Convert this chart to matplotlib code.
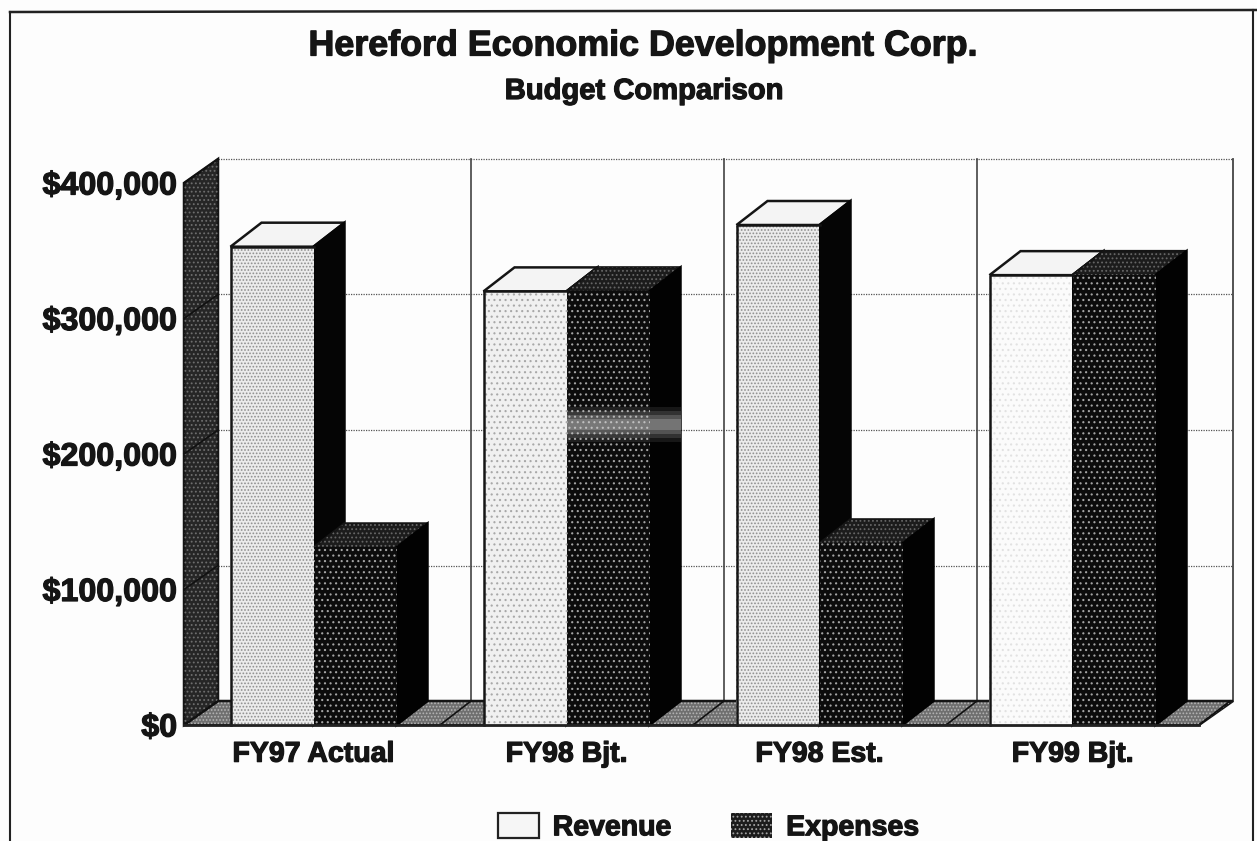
import matplotlib.pyplot as plt
import matplotlib.patheffects as pe
from matplotlib.patches import Rectangle

plt.rcParams['font.family'] = ['Liberation Sans', 'DejaVu Sans']
plt.rcParams['hatch.linewidth'] = 0.8

# values
categories = ['FY97 Actual', 'FY98 Bjt.', 'FY98 Est.', 'FY99 Bjt.']
revenue = [353000, 320000, 369000, 332000]
expenses = [131000, 320000, 134000, 332000]
y_ticks = [0, 100000, 200000, 300000, 400000]
y_tick_labels = ['$0', '$100,000', '$200,000', '$300,000', '$400,000']

W, H = 1257, 841
fig = plt.figure(figsize=(W / 100, H / 100), dpi=100, facecolor='#fdfdfd')
ax = fig.add_axes([187 / W, 1 - 725 / H, 1012 / W, 542 / H])
ax.set_xlim(0, 4)
ax.set_ylim(0, 400000)
ax.patch.set_alpha(0)
for s in ax.spines.values():
    s.set_visible(False)

# depth of the fake 3d box, in data units
dx = 31 / 253
dy = 24 / 542 * 400000
bar_w = 83 / 253
# the walls stick out a little past the bars' plane
wall_pad = 3 / 253

# thicker strokes for the blurred photocopy text
heavy = [pe.withStroke(linewidth=0.9, foreground='#151515')]


def face(xs, ys, color, hatch=None, edge='#151515', lw=1.8, z=2):
    ax.fill(xs, ys, facecolor=color, edgecolor=edge, linewidth=lw, zorder=z, clip_on=False)
    if hatch:
        ax.fill(xs, ys, facecolor='none', edgecolor=hatch[1], hatch=hatch[0],
                linewidth=0, zorder=z, clip_on=False)


# back wall grid
for v in y_ticks[1:]:
    ax.plot([dx, 4 + dx + wall_pad], [v + dy, v + dy], color='#555555', lw=0.9, ls=(0, (1, 1)),
            zorder=1, clip_on=False)
for i in range(1, 4):
    ax.plot([i + dx, i + dx], [dy, 400000 + dy], color='#444444', lw=1.2, zorder=1, clip_on=False)
ax.plot([4 + dx + wall_pad] * 2, [dy, 400000 + dy], color='#444444', lw=1.3, zorder=1, clip_on=False)

# floor and left wall
face([-wall_pad, 4, 4 + dx + wall_pad, dx], [0, 0, dy, dy], '#6f6f6f', hatch=('.....', '#b5b5b5'), z=1.5)
face([-wall_pad, dx, dx, -wall_pad], [0, dy, 400000 + dy, 400000], '#262626', hatch=('....', '#6e6e6e'), z=1.5)
for v in y_ticks:
    ax.plot([-wall_pad, dx], [v, v + dy], color='#111111', lw=1.2, zorder=1.6, clip_on=False)
for i in range(1, 5):
    ax.plot([i, i + dx], [0, dy], color='#111111', lw=1.2, zorder=1.6, clip_on=False)
ax.plot([-wall_pad, 4], [0, 0], color='#222222', lw=2.0, zorder=6, clip_on=False)

# bars, back faces first
rev_hatch = ['.....', '...', '.....', '...']
rev_edge = ['#8e8e8e', '#a8a8a8', '#8e8e8e', '#e2e2e2']
rev_color = ['#ebebeb', '#f0f0f0', '#ebebeb', '#fbfbfb']
for i, cat in enumerate(categories):
    c = i + 0.5
    left = c - bar_w
    right = c + bar_w
    r = revenue[i]
    e = expenses[i]
    # revenue top and side
    face([left, c, c + dx, left + dx], [r, r, r + dy, r + dy], '#f4f4f4', z=3)
    face([c, c + dx, c + dx, c], [0, dy, r + dy, r], '#050505', edge='#050505', z=3)
    # expenses top and side
    face([c, right, right + dx, c + dx], [e, e, e + dy, e + dy], '#1c1c1c',
         hatch=('....', '#666666'), z=4)
    face([right, right + dx, right + dx, right], [0, dy, e + dy, e], '#020202', edge='#020202', z=4)

rev_bars = ax.bar([i + 0.5 - bar_w / 2 for i in range(4)], revenue, width=bar_w, color=rev_color,
                  edgecolor=rev_edge, hatch='....', linewidth=0, zorder=5, label='Revenue', clip_on=False)
for b, h in zip(rev_bars, rev_hatch):
    b.set_hatch(h)
ax.bar([i + 0.5 + bar_w / 2 for i in range(4)], expenses, width=bar_w, color='#0c0c0c',
       edgecolor='#a4a4a4', hatch='...', linewidth=0, zorder=5, label='Expenses', clip_on=False)
# bar outlines
for i in range(4):
    c = i + 0.5
    ax.plot([c - bar_w, c - bar_w, c], [0, revenue[i], revenue[i]], color='#151515', lw=1.8,
            zorder=5.5, clip_on=False)

# light smear across the second expenses bar, a scan defect
for half, a in [(13000, 0.1), (10000, 0.14), (7000, 0.2), (4000, 0.25)]:
    ax.fill_between([1.5, 1.5 + bar_w + dx], 222000 - half, 222000 + half,
                    color='#d8d8d8', alpha=a, linewidth=0, zorder=5.6)

# axes text
ax.set_yticks(y_ticks)
ax.set_yticklabels(y_tick_labels, fontsize=23.2, fontweight='bold', color='#151515', path_effects=heavy)
ax.set_xticks([i + 0.5 for i in range(4)])
ax.set_xticklabels(categories, fontsize=20.5, fontweight='bold', color='#151515', path_effects=heavy)
ax.tick_params(axis='y', length=0, pad=7)
ax.tick_params(axis='x', length=0, pad=12)

fig.text(643 / W, 1 - 46 / H, 'Hereford Economic Development Corp.', ha='center', va='center',
         fontsize=25.8, fontweight='bold', color='#151515', path_effects=heavy)
fig.text(644 / W, 1 - 91 / H, 'Budget Comparison', ha='center', va='center',
         fontsize=21, fontweight='bold', color='#151515', path_effects=heavy)

# legend, cut by the bottom edge like the scan
handles = [Rectangle((0, 0), 1, 1, facecolor='#f6f6f6', edgecolor='#222222', linewidth=1.6),
           Rectangle((0, 0), 1, 1, facecolor='#1c1c1c', edgecolor='#a4a4a4', hatch='....', linewidth=0)]
leg = fig.legend(handles, ['Revenue', 'Expenses'], loc='center', bbox_to_anchor=(708.5 / W, 1 - 827 / H),
                 ncol=2, frameon=False, handlelength=1.45, handleheight=1.0, handletextpad=0.48,
                 columnspacing=2.1, prop={'size': 20.5, 'weight': 'bold'}, borderpad=0)
for t in leg.get_texts():
    t.set_color('#151515')
    t.set_path_effects(heavy)

# scan frame
fig.add_artist(plt.Line2D([10 / W, 10 / W], [0, 1 - 12 / H], color='#222222', lw=1.5))
fig.add_artist(plt.Line2D([10 / W, 1], [1 - 12 / H, 1 - 10 / H], color='#222222', lw=1.8))
fig.add_artist(plt.Line2D([1253 / W, 1253 / W], [0, 1 - 10 / H], color='#222222', lw=1.5))

fig.savefig('out.png', dpi=100, facecolor=fig.get_facecolor())
